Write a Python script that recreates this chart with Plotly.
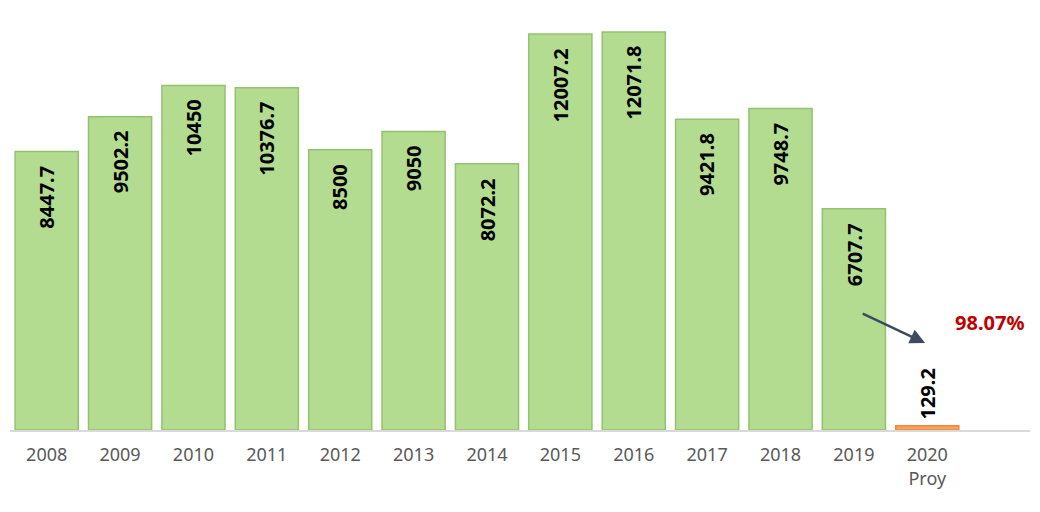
import plotly.graph_objects as go

years = ["2008", "2009", "2010", "2011", "2012", "2013", "2014", "2015", "2016", "2017", "2018", "2019", "2020<br>Proy"]
values = [8447.7, 9502.2, 10450, 10376.7, 8500, 9050, 8072.2, 12007.2, 12071.8, 9421.8, 9748.7, 6707.7, 129.2]
labels = ["8447.7", "9502.2", "10450", "10376.7", "8500", "9050", "8072.2", "12007.2", "12071.8", "9421.8", "9748.7", "6707.7", "129.2"]
change_label = "98.07%"

n = len(values)
fill = ["#b4dc91"] * (n - 1) + ["#f7a35c"]
edge = ["#94c16e"] * (n - 1) + ["#f08a3a"]

fig = go.Figure()
fig.add_trace(go.Bar(
    x=list(range(n)), y=values,
    marker=dict(color=fill, line=dict(color=edge, width=1.5)),
    hoverinfo="skip",
))

label_font = dict(family="Noto Sans", size=20, color="black", weight="bold")
for i, (v, lab) in enumerate(zip(values, labels)):
    if i < n - 1:
        fig.add_annotation(x=i, y=v, xref="x", yref="y", text=lab, textangle=-90,
                           showarrow=False, yanchor="top", yshift=-12, font=label_font)
    else:
        fig.add_annotation(x=i, y=v, xref="x", yref="y", text=lab, textangle=-90,
                           showarrow=False, yanchor="bottom", yshift=4, font=label_font)

fig.add_annotation(
    x=11.97, y=2640, ax=11.1, ay=3550, xref="x", yref="y", axref="x", ayref="y",
    showarrow=True, arrowhead=2, arrowsize=1.2, arrowwidth=2.5, arrowcolor="#3d4b5f", text="",
)
fig.add_annotation(
    x=12.85, y=3250, xref="x", yref="y", showarrow=False, text=change_label,
    font=dict(family="Noto Sans", size=20, color="#c00000", weight="bold"),
)

fig.update_layout(
    width=1040, height=512,
    margin=dict(l=2, r=18, t=12, b=90),
    paper_bgcolor="white", plot_bgcolor="white",
    showlegend=False, bargap=0.14,
    xaxis=dict(
        range=[-0.5, 13.4], tickmode="array", tickvals=list(range(n)), ticktext=years,
        showgrid=False, showline=True, linecolor="#d9d9d9", linewidth=1.5,
        ticks="", ticklabelstandoff=8,
        tickfont=dict(family="Noto Sans", size=18, color="#595959"), zeroline=False,
    ),
    yaxis=dict(range=[0, 12435], visible=False, showgrid=False, zeroline=False),
)

fig.write_html("out.html")
